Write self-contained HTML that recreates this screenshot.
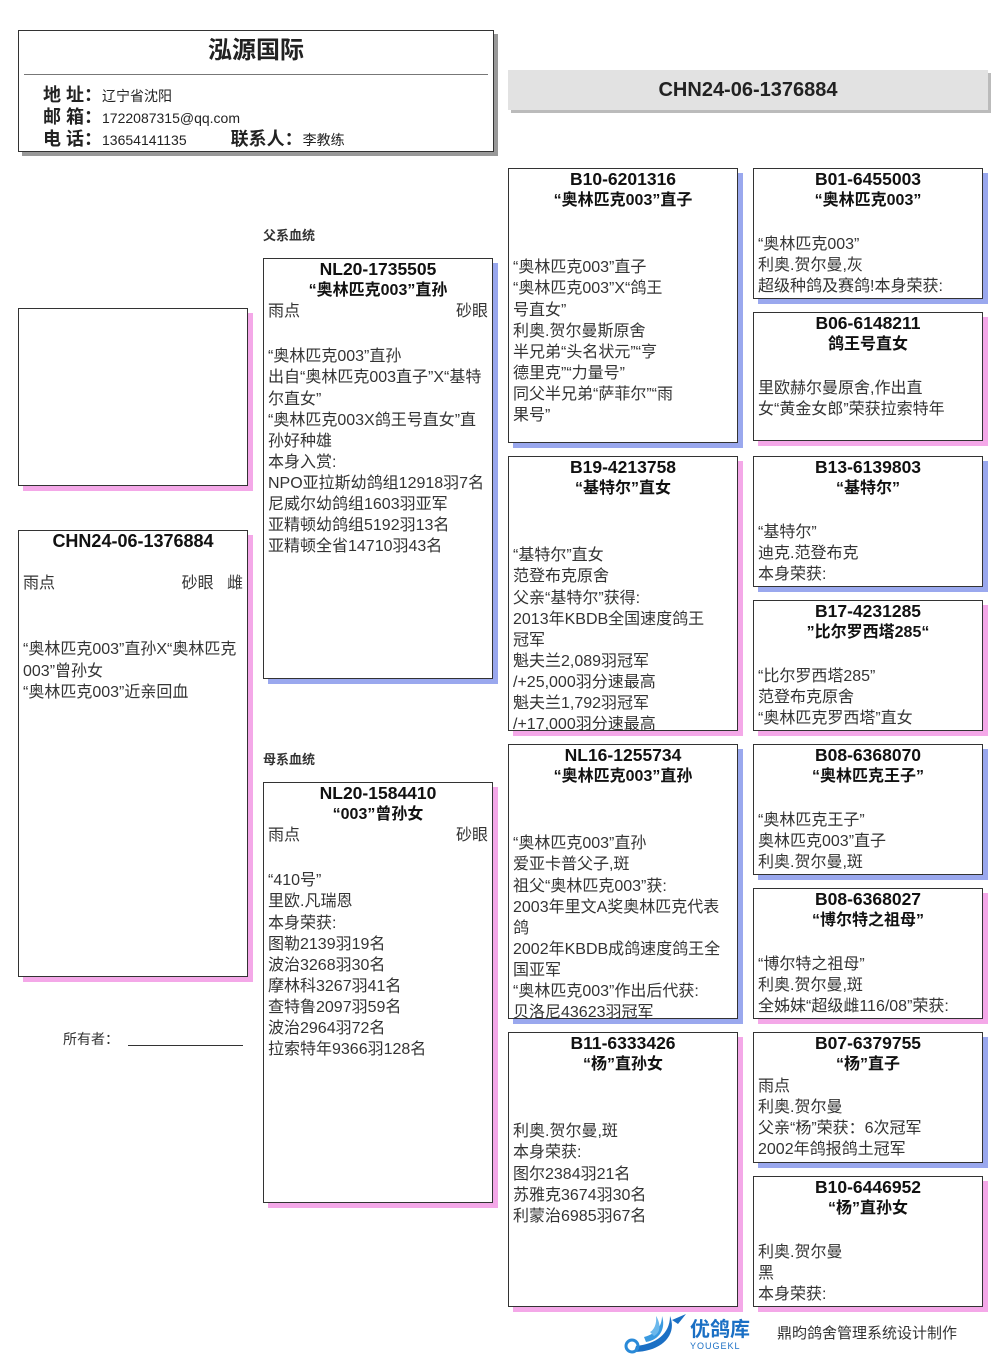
<!DOCTYPE html>
<html><head><meta charset="utf-8"><style>
body{margin:0;width:1006px;height:1366px;background:#fff;position:relative;font-family:"Liberation Sans","Noto Sans CJK SC",sans-serif;overflow:hidden}
.b{position:absolute;border:1px solid #333;background:#fff;box-sizing:border-box;overflow:hidden;font-size:16px;line-height:21.1px;color:#333;padding:0 4px;white-space:nowrap}
.m{box-shadow:5px 5px 0 #9aa8ee}
.f{box-shadow:5px 5px 0 #f4a8e8}
.t{text-align:center;font-weight:bold;color:#111;font-size:17.5px}
.n{text-align:center;font-weight:bold;color:#111;font-size:16px}
.r{float:right}
.lbl{position:absolute;font-size:13px;color:#333;font-weight:bold}
</style></head><body>

<div class="b" style="left:18px;top:30px;width:476px;height:122px;box-shadow:4px 4px 0 #999;padding:0">
 <div style="text-align:center;font-weight:bold;font-size:24px;color:#222;margin-top:6px;line-height:28px">泓源国际</div>
 <div style="position:absolute;left:5px;right:5px;top:43px;border-top:1px solid #777"></div>
 <div style="position:absolute;left:24px;top:54px;line-height:21px;color:#222">
  <div><b style="font-size:18px">地 址：</b><span style="font-size:14px">辽宁省沈阳</span></div>
  <div><b style="font-size:18px">邮 箱：</b><span style="font-size:14px">1722087315@qq.com</span></div>
  <div><b style="font-size:18px">电 话：</b><span style="font-size:14px">13654141135</span><b style="font-size:18px;margin-left:44px">联系人：</b><span style="font-size:14px">李教练</span></div>
 </div>
</div>

<div style="position:absolute;left:508px;top:70px;width:480px;height:40px;background:#e2e2e2;text-align:center;line-height:40px;font-weight:bold;font-size:20px;color:#222;box-shadow:3px 3px 0 #bbb">CHN24-06-1376884</div>

<div class="b f" style="left:18px;top:308px;width:230px;height:178px"></div>

<div class="b f" style="left:18px;top:530px;width:230px;height:447px"><div class="t" style="font-size:18px">CHN24-06-1376884</div><br><div>雨点<span class="r">砂眼&nbsp;&nbsp;&nbsp;雌</span></div><br><br><div style="margin-top:3px">“奥林匹克003”直孙X“奥林匹克<br>003”曾孙女<br>“奥林匹克003”近亲回血</div></div>

<div class="lbl" style="left:263px;top:225px">父系血统</div>
<div class="lbl" style="left:263px;top:749px">母系血统</div>

<div style="position:absolute;left:63px;top:1029px;font-size:14px;color:#333">所有者：</div>
<div style="position:absolute;left:128px;top:1045px;width:115px;border-top:1px solid #333"></div>

<div class="b m" style="left:263px;top:258px;width:230px;height:421px"><div class="t">NL20-1735505</div><div class="n">“奥林匹克003”直孙</div><div>雨点<span class="r">砂眼</span></div><br><div style="margin-top:3px">“奥林匹克003”直孙<br>出自“奥林匹克003直子”X“基特<br>尔直女”<br>“奥林匹克003X鸽王号直女”直<br>孙好种雄<br>本身入赏:<br>NPO亚拉斯幼鸽组12918羽7名<br>尼威尔幼鸽组1603羽亚军<br>亚精顿幼鸽组5192羽13名<br>亚精顿全省14710羽43名</div></div>

<div class="b f" style="left:263px;top:782px;width:230px;height:421px"><div class="t">NL20-1584410</div><div class="n">“003”曾孙女</div><div>雨点<span class="r">砂眼</span></div><br><div style="margin-top:3px">“410号”<br>里欧.凡瑞恩<br>本身荣获:<br>图勒2139羽19名<br>波治3268羽30名<br>摩林科3267羽41名<br>查特鲁2097羽59名<br>波治2964羽72名<br>拉索特年9366羽128名</div></div>

<div class="b m" style="left:508px;top:168px;width:230px;height:275px"><div class="t">B10-6201316</div><div class="n">“奥林匹克003”直子</div><br><br><div style="margin-top:4px">“奥林匹克003”直子<br>“奥林匹克003”X“鸽王<br>号直女”<br>利奥.贺尔曼斯原舍<br>半兄弟“头名状元”“亨<br>德里克”“力量号”<br>同父半兄弟“萨菲尔”“雨<br>果号”</div></div>

<div class="b f" style="left:508px;top:456px;width:230px;height:275px"><div class="t">B19-4213758</div><div class="n">“基特尔”直女</div><br><br><div style="margin-top:4px">“基特尔”直女<br>范登布克原舍<br>父亲“基特尔”获得:<br>2013年KBDB全国速度鸽王<br>冠军<br>魁夫兰2,089羽冠军<br>/+25,000羽分速最高<br>魁夫兰1,792羽冠军<br>/+17,000羽分速最高</div></div>

<div class="b m" style="left:508px;top:744px;width:230px;height:275px"><div class="t">NL16-1255734</div><div class="n">“奥林匹克003”直孙</div><br><br><div style="margin-top:4px">“奥林匹克003”直孙<br>爱亚卡普父子,斑<br>祖父“奥林匹克003”获:<br>2003年里文A奖奥林匹克代表<br>鸽<br>2002年KBDB成鸽速度鸽王全<br>国亚军<br>“奥林匹克003”作出后代获:<br>贝洛尼43623羽冠军</div></div>

<div class="b f" style="left:508px;top:1032px;width:230px;height:275px"><div class="t">B11-6333426</div><div class="n">“杨”直孙女</div><br><br><div style="margin-top:4px">利奥.贺尔曼,斑<br>本身荣获:<br>图尔2384羽21名<br>苏雅克3674羽30名<br>利蒙治6985羽67名</div></div>

<div class="b m" style="left:753px;top:168px;width:230px;height:131px"><div class="t">B01-6455003</div><div class="n">“奥林匹克003”</div><br><div style="margin-top:2px">“奥林匹克003”<br>利奥.贺尔曼,灰<br>超级种鸽及赛鸽!本身荣获:</div></div>
<div class="b f" style="left:753px;top:312px;width:230px;height:129px"><div class="t">B06-6148211</div><div class="n">鸽王号直女</div><br><div style="margin-top:2px">里欧赫尔曼原舍,作出直<br>女“黄金女郎”荣获拉索特年</div></div>
<div class="b m" style="left:753px;top:456px;width:230px;height:131px"><div class="t">B13-6139803</div><div class="n">“基特尔”</div><br><div style="margin-top:2px">“基特尔”<br>迪克.范登布克<br>本身荣获:</div></div>
<div class="b f" style="left:753px;top:600px;width:230px;height:131px"><div class="t">B17-4231285</div><div class="n">”比尔罗西塔285“</div><br><div style="margin-top:2px">“比尔罗西塔285”<br>范登布克原舍<br>“奥林匹克罗西塔”直女</div></div>
<div class="b m" style="left:753px;top:744px;width:230px;height:131px"><div class="t">B08-6368070</div><div class="n">“奥林匹克王子”</div><br><div style="margin-top:2px">“奥林匹克王子”<br>奥林匹克003”直子<br>利奥.贺尔曼,斑</div></div>
<div class="b f" style="left:753px;top:888px;width:230px;height:131px"><div class="t">B08-6368027</div><div class="n">“博尔特之祖母”</div><br><div style="margin-top:2px">“博尔特之祖母”<br>利奥.贺尔曼,斑<br>全姊妹“超级雌116/08”荣获:</div></div>
<div class="b m" style="left:753px;top:1032px;width:230px;height:131px"><div class="t">B07-6379755</div><div class="n">“杨”直子</div><div style="margin-top:1px">雨点<br>利奥.贺尔曼<br>父亲“杨”荣获：6次冠军<br>2002年鸽报鸽土冠军</div></div>
<div class="b f" style="left:753px;top:1176px;width:230px;height:131px"><div class="t">B10-6446952</div><div class="n">“杨”直孙女</div><br><div style="margin-top:2px">利奥.贺尔曼<br>黑<br>本身荣获:</div></div>

<svg style="position:absolute;left:620px;top:1312px" width="70" height="44" viewBox="0 0 70 44">
<path d="M14 40 C40 40 58 24 50 4 C50 22 36 32 16 34 Z" fill="#1a6fc4"/>
<path d="M26 30 C40 28 46 16 42 4 C42 14 36 22 24 25 Z" fill="#3a9ae0"/>
<path d="M34 24 C42 20 40 10 36 4 C37 12 34 18 30 20 Z" fill="#6bb8ec"/>
<path d="M52 8 L66 2 L58 12 Z" fill="#1a6fc4"/>
<circle cx="12" cy="34" r="6" fill="none" stroke="#2a8ad8" stroke-width="3"/>
</svg>
<div style="position:absolute;left:690px;top:1318px;font-size:20px;font-weight:bold;color:#1a6fc4;line-height:24px">优鸽库</div>
<div style="position:absolute;left:690px;top:1341px;font-size:9px;color:#1a6fc4;letter-spacing:1px">YOUGEKL</div>
<div style="position:absolute;left:777px;top:1322px;font-size:15px;color:#333">鼎昀鸽舍管理系统设计制作</div>
</body></html>
